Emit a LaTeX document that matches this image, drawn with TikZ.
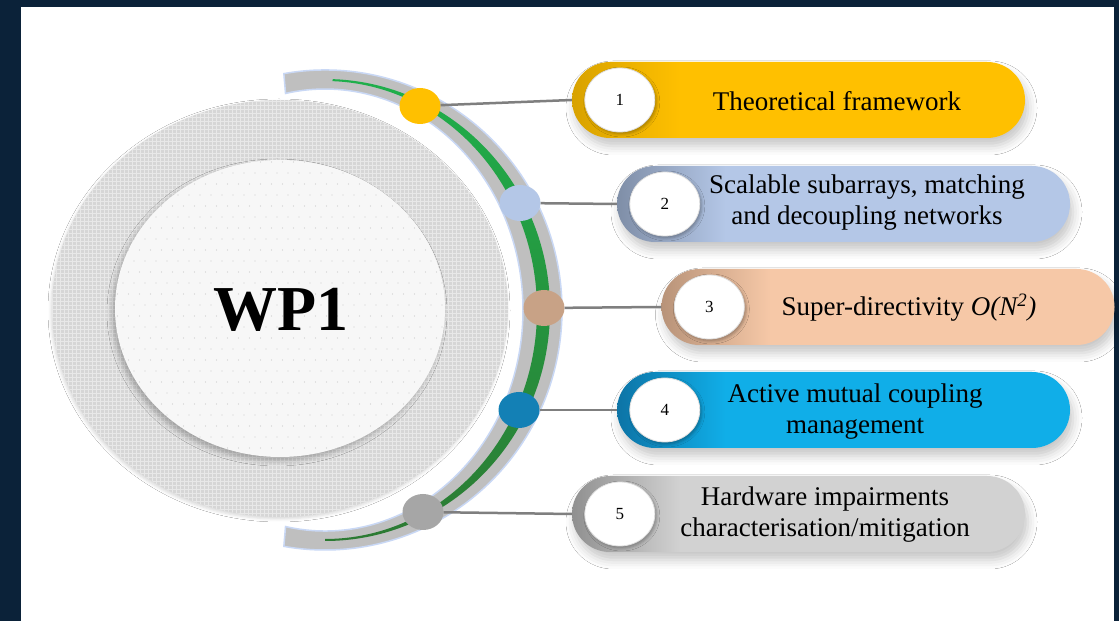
\documentclass[tikz,border=0pt]{standalone}
\usepackage{fontspec}
\setmainfont{Liberation Serif}
\usetikzlibrary{shapes.geometric,shadows.blur}

\definecolor{navy}{HTML}{0B2239}
\definecolor{ringgray}{HTML}{D6D6D6}
\definecolor{corewhite}{HTML}{F7F7F7}
\definecolor{bandgray}{HTML}{BFBFBF}
\definecolor{glow}{HTML}{C9D8F5}
\definecolor{conngray}{HTML}{7F7F7F}
\definecolor{gold}{HTML}{FFC000}
\definecolor{golddark}{HTML}{D8A200}
\definecolor{steel}{HTML}{B4C7E7}
\definecolor{steeldark}{HTML}{7F8EA7}
\definecolor{peach}{HTML}{F6C8A7}
\definecolor{peachdark}{HTML}{B89379}
\definecolor{beadtan}{HTML}{C8A286}
\definecolor{sky}{HTML}{10AEE8}
\definecolor{skydark}{HTML}{0D74A6}
\definecolor{beadblue}{HTML}{1380B5}
\definecolor{silver}{HTML}{D2D2D2}
\definecolor{silverdark}{HTML}{909090}
\definecolor{beadgray}{HTML}{A6A6A6}
\definecolor{greenlite}{HTML}{1FAF4B}
\definecolor{greendark}{HTML}{2C7A33}

% dark left end fading into the pill colour
\pgfdeclarehorizontalshading{pill1}{100bp}{color(0bp)=(golddark); color(25bp)=(golddark); color(37bp)=(gold); color(100bp)=(gold)}
\pgfdeclarehorizontalshading{pill2}{100bp}{color(0bp)=(steeldark); color(25bp)=(steeldark); color(37bp)=(steel); color(100bp)=(steel)}
\pgfdeclarehorizontalshading{pill3}{100bp}{color(0bp)=(peachdark); color(25bp)=(peachdark); color(37bp)=(peach); color(100bp)=(peach)}
\pgfdeclarehorizontalshading{pill4}{100bp}{color(0bp)=(skydark); color(25bp)=(skydark); color(37bp)=(sky); color(100bp)=(sky)}
\pgfdeclarehorizontalshading{pill5}{100bp}{color(0bp)=(silverdark); color(25bp)=(silverdark); color(37bp)=(silver); color(100bp)=(silver)}

\tikzset{
	pill/.style={rectangle, rounded corners=38pt, minimum width=453pt, minimum height=76pt, inner sep=0pt, shade, shading=#1,
		blur shadow={shadow xshift=3pt, shadow yshift=-8pt, shadow blur radius=9pt, shadow opacity=22}},
	numdisk/.style={ellipse, minimum width=70pt, minimum height=64pt, inner sep=0pt, fill=white, draw=gray!25, line width=.8pt,
		font=\rmfamily\fontsize{17}{17}\selectfont,
		blur shadow={shadow xshift=2pt, shadow yshift=-2pt, shadow blur radius=3pt, shadow opacity=30}},
	bead/.style={ellipse, minimum width=41pt, minimum height=36pt, inner sep=0pt, fill=#1},
	lbl/.style={font=\rmfamily\fontsize{27}{31}\selectfont, align=center},
	conn/.style={draw=conngray, line width=2.5pt}
}

\begin{document}
\begin{tikzpicture}[x=1pt,y=1pt]
	\useasboundingbox (0,0) rectangle (1119,621);
	\fill[navy] (0,0) rectangle (1119,621);
	\fill[white] (21,0) rectangle (1114,614);

	% big disc
	\def\rx{228}
	\def\ry{208.5}
	\fill[ringgray, blur shadow={shadow xshift=-1pt, shadow yshift=-2pt, shadow blur radius=3pt, shadow opacity=15}] (280,312.5) ellipse[x radius=\rx, y radius=\ry];
	\begin{scope}
		\clip (280,312.5) ellipse[x radius=\rx, y radius=\ry];
		\draw[step=4, white, line width=.5pt, opacity=.45] (50,100) grid (512,524);
	\end{scope}
	\fill[corewhite, blur shadow={shadow xshift=-3pt, shadow yshift=-4pt, shadow blur radius=5pt, shadow opacity=25}] (280,312.5) ellipse[x radius=165, y radius=148.5];
	\begin{scope}
		\clip (280,312.5) ellipse[x radius=165, y radius=148.5];
		\foreach \r in {0,...,27}{
			\foreach \c in {0,...,30}{
				\fill[gray!40] ({112+\c*11+mod(\r,2)*5.5},{162+\r*11}) circle[radius=.7];
			}
		}
	\end{scope}
	\node[font=\rmfamily\bfseries\fontsize{64}{64}\selectfont] (wp) at (281,311) {WP1};

	% arc band
	\path (325,311) coordinate (o);
	\filldraw[fill=bandgray, draw=glow, line width=1.5pt] ([shift={(100:237 and 240)}]o) arc[start angle=100, end angle=-100, x radius=237, y radius=240]
		-- ([shift={(-101.5:198 and 221)}]o) arc[start angle=-101.5, end angle=101.5, x radius=198, y radius=221] -- cycle;
	\shade[top color=greenlite, middle color=greenlite, bottom color=greendark] ([shift={(88:225 and 231)}]o) arc[start angle=88, end angle=-90, x radius=225, y radius=231]
		-- ([shift={(-90:212 and 229)}]o) arc[start angle=-90, end angle=88, x radius=212, y radius=229] -- cycle;

	% pills
	\foreach \i/\px/\py/\bx/\by/\bc in {
		1/798.5/521/420/515/gold,
		2/843.5/417/520/418/steel,
		3/888/314/544/313/beadtan,
		4/843.5/211/519/211/beadblue,
		5/798.5/107/423/109/beadgray}{
		\node[pill=pill\i] (p\i) at (\px,\py) {};
		\node[numdisk] (n\i) at ([xshift=48pt]p\i.west) {\i};
		\node[bead=\bc] (b\i) at (\bx,\by) {};
		\draw[conn] (b\i) -- (p\i.west);
	}

	\node[lbl] (t1) at (837,520) {Theoretical framework};
	\node[lbl] (t2) at (867,418) {Scalable subarrays, matching\\and decoupling networks};
	\node[lbl] (t3) at (909,313) {Super-directivity \textit{O(N\textsuperscript{2})}};
	\node[lbl] (t4) at (855,209) {Active mutual coupling\\management};
	\node[lbl] (t5) at (825,106) {Hardware impairments\\characterisation/mitigation};
\end{tikzpicture}
\end{document}
